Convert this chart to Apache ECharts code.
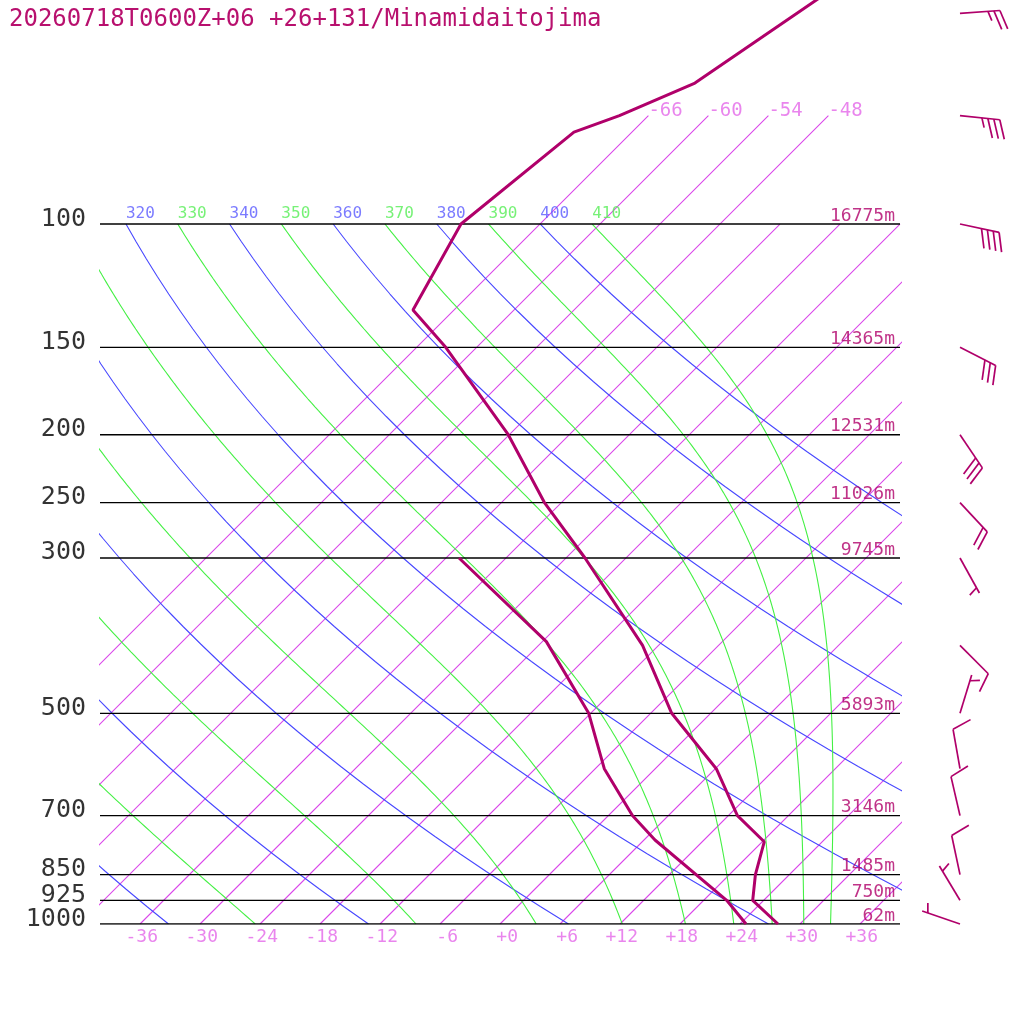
<!DOCTYPE html>
<html>
<head>
<meta charset="utf-8">
<script src="https://cdn.jsdelivr.net/npm/echarts@6/dist/echarts.min.js"></script>
<style>
  html, body, #main { width: 100%; height: 100%; margin: 0; background: #fff; }
</style>
</head>
<body>
<div id="main"></div>
<script>
var title = '20260718T0600Z+06 +26+131/Minamidaitojima';

// isobars drawn and their heights
var isobars = [100, 150, 200, 250, 300, 500, 700, 850, 925, 1000];
var heights = ['16775m', '14365m', '12531m', '11026m', '9745m', '5893m', '3146m', '1485m', '750m', '62m'];

// background lines
var isotherms = [-66, -60, -54, -48, -42, -36, -30, -24, -18, -12, -6, 0, 6, 12, 18, 24, 30, 36];
var dryThetas = [240, 260, 280, 300, 320, 340, 360, 380, 400];
var moistThetas = [250, 270, 290, 310, 330, 350, 370, 390, 410];

// temperature profile
var tempP = [1000, 925, 850, 763, 700, 600, 500, 400, 300, 250, 200, 150, 132.7, 100, 73.9, 70, 62.9, 30];
var tempT = [27.8, 22.9, 20.6, 18.2, 12.9, 6.1, -3.9, -13.6, -28.1, -37.7, -48.1, -63.1, -70.1, -73.9, -71.8, -68.9, -64.6, -54.2];

// dew point profile
var dewP = [1000, 925, 758.6, 700, 600, 500, 395, 300];
var dewT = [24.6, 20.3, 7.1, 2.4, -5.1, -12.2, -23.6, -40.7];

// wind barbs (deg, kt)
var windP = [50, 70, 100, 150, 200, 250, 300, 400, 500, 600, 700, 850, 925, 1000];
var windDir = [86, 96, 102, 117, 146, 137, 151, 135, 17, 350, 347, 348, 329, 289];
var windSpd = [25, 35, 40, 30, 30, 20, 5, 10, 5, 10, 10, 10, 5, 5];

var KAPPA = 0.2857, SKEW = 30.4, PTOP = 1000 * Math.exp(-924 / 304);
var MONO = 'DejaVu Sans Mono';
var cProf = '#b0006a', cIso = '#da48ea', cIsoText = '#e466e8', cDry = '#4848ff', cMoist = '#44f044';

function skewX(t, p) { return t + SKEW * Math.log(1000 / p); }

function satMix(tK, p) {
  var tc = tK - 273.15;
  var es = 6.112 * Math.exp(17.67 * tc / (tc + 243.5));
  return 0.622 * es / (p - es);
}
// dT/dlnp along a pseudo-adiabat
function moistRate(tK, p) {
  var rs = satMix(tK, p), lv = 2.501e6;
  return (287.04 * tK + lv * rs) / (1004.67 + lv * lv * rs * 0.622 / (287.04 * tK * tK));
}
function moistLine(th) {
  var n = 180, h = Math.log(10) / n, lp = Math.log(100), t = th * Math.pow(0.1, KAPPA), pts = [];
  for (var i = 0; i <= n; i++) {
    var p = Math.exp(lp);
    pts.push([skewX(t - 273.15, p), p]);
    var pm = Math.exp(lp + h / 2), pe = Math.exp(lp + h);
    var k1 = moistRate(t, p), k2 = moistRate(t + h * k1 / 2, pm);
    var k3 = moistRate(t + h * k2 / 2, pm), k4 = moistRate(t + h * k3, pe);
    t += h * (k1 + 2 * k2 + 2 * k3 + k4) / 6;
    lp += h;
  }
  return pts;
}
function dryLine(th) {
  var pts = [];
  for (var i = 0; i <= 40; i++) {
    var p = 100 * Math.pow(10, i / 40);
    pts.push([skewX(th * Math.pow(p / 1000, KAPPA) - 273.15, p), p]);
  }
  return pts;
}

function lineSeries(data, color, width, z) {
  return { type: 'line', data: data, symbol: 'none', silent: true, z: z || 2, color: color,
    itemStyle: { color: color }, lineStyle: { color: color, width: width }, animation: false };
}
function textSeries(data, label) {
  var l = { show: true, fontFamily: MONO, formatter: function (d) { return d.data[2]; } };
  for (var k in label) l[k] = label[k];
  return { type: 'scatter', data: data, symbolSize: 0, silent: true, clip: false, z: 6, label: l, animation: false };
}

var series = [];

isotherms.forEach(function (t) {
  var top = t <= -48 ? 70 : 100;
  series.push(lineSeries([[t, 1000], [skewX(t, 400), 400], [skewX(t, top), top]], cIso, 1.1, 2));
});
dryThetas.forEach(function (th) { series.push(lineSeries(dryLine(th), cDry, 1.1, 2)); });
moistThetas.forEach(function (th) { series.push(lineSeries(moistLine(th), cMoist, 1.1, 2)); });
isobars.forEach(function (p) { series.push(lineSeries([[-40, p], [40, p]], '#000', 1.3, 3)); });

series.push(lineSeries(tempP.map(function (p, i) { return [skewX(tempT[i], p), p]; }), cProf, 3, 4));
series.push(lineSeries(dewP.map(function (p, i) { return [skewX(dewT[i], p), p]; }), cProf, 3, 4));

// labels
series.push(textSeries(isobars.map(function (p) { return [-40, p, String(p)]; }),
  { position: 'left', distance: 14, offset: [0, -5], fontSize: 25, color: '#000' }));
series.push(textSeries(isobars.map(function (p, i) { return [40, p, heights[i]]; }),
  { position: 'left', distance: 5, offset: [0, -8], fontSize: 18, color: cProf }));
series.push(textSeries(isotherms.filter(function (t) { return t >= -36; }).map(function (t) {
  return [t, 1000, (t >= 0 ? '+' : '') + t];
}), { position: 'bottom', distance: 4, align: 'right', offset: [18, 0], fontSize: 18, color: cIsoText }));
series.push(textSeries(isotherms.filter(function (t) { return t <= -48; }).map(function (t) {
  return [skewX(t, 70), 70, String(t)];
}), { position: 'right', distance: 0, offset: [0, -5], fontSize: 19, color: cIsoText }));

function thetaLabels(list, color) {
  var d = [];
  list.forEach(function (th) {
    var x = skewX(th * Math.pow(0.1, KAPPA) - 273.15, 100);
    if (x >= -40 && x <= 40) d.push([x, 100, String(th)]);
  });
  return textSeries(d, { position: 'right', distance: 0, offset: [0, -10], fontSize: 16, color: color });
}
series.push(thetaLabels(dryThetas, '#5a5aff'));
series.push(thetaLabels(moistThetas, '#55ee55'));

// wind barbs
series.push({
  type: 'custom', clip: false, silent: true, z: 5, animation: false,
  data: windP.map(function (p, i) { return [46, p, windDir[i], windSpd[i]]; }),
  encode: { x: 0, y: 1 },
  renderItem: function (params, api) {
    var b = api.coord([api.value(0), api.value(1)]);
    var d = api.value(2) * Math.PI / 180, s = api.value(3);
    var ux = Math.sin(d), uy = -Math.cos(d);
    var a = 71 * Math.PI / 180;
    var bx = ux * Math.cos(a) - uy * Math.sin(a), by = ux * Math.sin(a) + uy * Math.cos(a);
    var ex = b[0] + 40 * ux, ey = b[1] + 40 * uy;
    var st = { stroke: cProf, lineWidth: 1.7 };
    var kids = [{ type: 'line', shape: { x1: b[0], y1: b[1], x2: ex, y2: ey }, style: st }];
    function barb(idx, len) {
      var x = ex - idx * 6 * ux, y = ey - idx * 6 * uy;
      kids.push({ type: 'line', shape: { x1: x, y1: y, x2: x + len * bx, y2: y + len * by }, style: st });
    }
    var full = Math.floor(s / 10), idx = 0;
    for (var i = 0; i < full; i++) barb(idx++, 20);
    if (s % 10 >= 5) barb(idx === 0 ? 1 : idx, 10);
    return { type: 'group', children: kids };
  }
});

var chart = echarts.init(document.getElementById('main'));
chart.setOption({
  animation: false,
  backgroundColor: '#fff',
  title: { text: title, left: 4, top: 3,
    textStyle: { fontFamily: MONO, fontSize: 24, fontWeight: 'normal', color: '#b8106e' } },
  grid: { left: 100, right: 124, top: 0, bottom: 100 },
  xAxis: { type: 'value', min: -40, max: 40, show: false },
  yAxis: { type: 'log', min: PTOP, max: 1000, inverse: true, show: false },
  series: series
});
</script>
</body>
</html>
